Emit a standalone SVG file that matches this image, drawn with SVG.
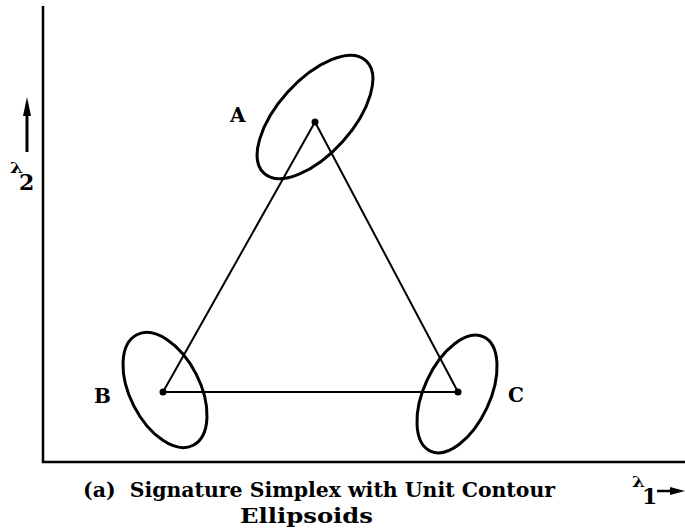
<svg xmlns="http://www.w3.org/2000/svg" width="685" height="528" viewBox="0 0 685 528">
<style>
.ax{stroke:#000;stroke-width:2.5;fill:none}
.ln{stroke:#000;stroke-width:2;fill:none}
.el{stroke:#000;stroke-width:3;fill:none}
.t{font-family:"DejaVu Serif","Liberation Serif",serif;font-weight:bold;fill:#000}
</style>
<rect width="685" height="528" fill="#fff"/>
<g id="axes">
<path class="ax" d="M43,6 V462 H685"/>
<line x1="27" y1="152" x2="27" y2="112" stroke="#000" stroke-width="3"/>
<path d="M27,97 L31,116 L23,116 Z" fill="#000"/>
<text class="t" x="10" y="173" font-size="14" textLength="13" lengthAdjust="spacingAndGlyphs">λ</text>
<text class="t" x="19" y="190" font-size="22">2</text>
<line x1="657" y1="491" x2="672" y2="491" stroke="#000" stroke-width="2.5"/>
<path d="M685,491 L670,487 L670,495 Z" fill="#000"/>
<text class="t" x="632" y="487" font-size="14" textLength="13" lengthAdjust="spacingAndGlyphs">λ</text>
<text class="t" x="642" y="504" font-size="22">1</text>
</g>
<g id="connectors">
<line class="ln" x1="315" y1="122" x2="163" y2="392"/>
<line class="ln" x1="315" y1="122" x2="458" y2="392"/>
<line class="ln" x1="163" y1="392" x2="458" y2="392"/>
</g>
<g id="A">
<ellipse class="el" cx="315" cy="117" rx="76" ry="37" transform="rotate(-48 315 117)"/>
<circle cx="315" cy="122" r="3.5" fill="#000"/>
<text class="t" x="230" y="122" font-size="20">A</text>
</g>
<g id="B">
<ellipse class="el" cx="165" cy="390" rx="62" ry="35" transform="rotate(63 165 390)"/>
<circle cx="163" cy="392" r="3.5" fill="#000"/>
<text class="t" x="94" y="403" font-size="20">B</text>
</g>
<g id="C">
<ellipse class="el" cx="457" cy="394" rx="63" ry="33" transform="rotate(-65 457 394)"/>
<circle cx="458" cy="392" r="3.5" fill="#000"/>
<text class="t" x="508" y="402" font-size="20">C</text>
</g>
<g id="caption">
<text class="t" x="83" y="497" font-size="20" textLength="472" lengthAdjust="spacingAndGlyphs" xml:space="preserve">(a)  Signature Simplex with Unit Contour</text>
<text class="t" x="240" y="523" font-size="20" textLength="133" lengthAdjust="spacingAndGlyphs">Ellipsoids</text>
</g>
</svg>
